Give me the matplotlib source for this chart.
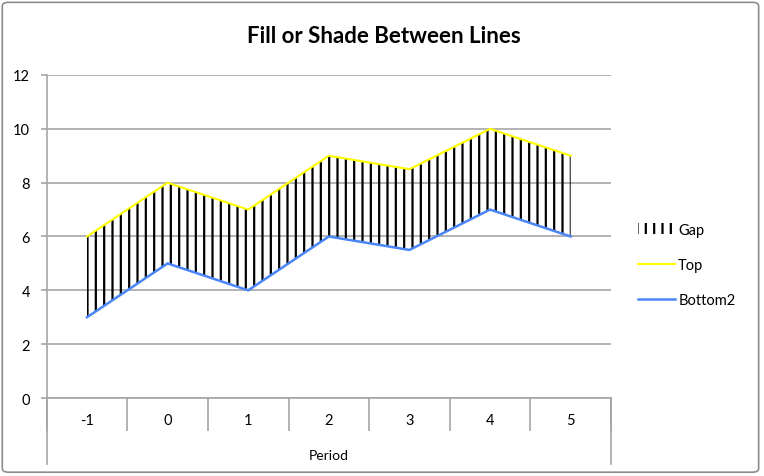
import matplotlib.pyplot as plt
import matplotlib.patches as mpatches
from matplotlib.lines import Line2D
import numpy as np

# chart data
periods = ['-1', '0', '1', '2', '3', '4', '5']
top = [6, 8, 7, 9, 8.5, 10, 9]
bottom2 = [3, 5, 4, 6, 5.5, 7, 6]
y_ticks = [0, 2, 4, 6, 8, 10, 12]

plt.rcParams['font.family'] = ['Lato', 'DejaVu Sans']
plt.rcParams['hatch.linewidth'] = 1.6

grey = '#a6a6a6'
yellow = '#ffff00'
blue = '#4a86f7'

fig = plt.figure(figsize=(7.64, 4.77), dpi=100)
ax = fig.add_axes([0.0611, 0.1635, 0.7386, 0.6772])

x = np.arange(len(periods))

# shaded gap between lines
ax.fill_between(x, bottom2, top, facecolor='none', edgecolor='black',
                hatch='||', linewidth=0, zorder=2)
ax.plot(x, top, color=yellow, lw=1.5, zorder=3)
ax.plot(x, bottom2, color=blue, lw=1.8, zorder=3)

ax.set_xlim(-0.5, len(periods) - 0.5)
ax.set_ylim(0, 12)
ax.set_yticks(y_ticks)
ax.set_yticklabels([str(v) for v in y_ticks], fontsize=10.5)
ax.yaxis.grid(True, color=grey, lw=1.2)
ax.set_axisbelow(True)

# category axis: labels at centres, divider ticks at boundaries
ax.set_xticks(x)
ax.set_xticklabels(periods, fontsize=10.5)
ax.tick_params(axis='x', which='major', length=0, pad=11)
ax.set_xticks(np.arange(-0.5, len(periods)), minor=True)
ax.tick_params(axis='x', which='minor', length=24, width=1.2, color=grey)
ax.tick_params(axis='y', length=4, width=1.2, color=grey, pad=8)

for s in ['top', 'right']:
    ax.spines[s].set_visible(False)
for s in ['left', 'bottom']:
    ax.spines[s].set_color(grey)
    ax.spines[s].set_linewidth(1.2)

# outer group boundaries
for xb in [-0.5, len(periods) - 0.5]:
    ax.plot([xb, xb], [0, -0.205], transform=ax.get_xaxis_transform(),
            color=grey, lw=1.2, clip_on=False)

ax.set_xlabel('Period', fontsize=10, labelpad=9)

fig.suptitle('Fill or Shade Between Lines', fontsize=16, fontweight='bold',
             x=0.503, y=0.945)

handles = [
    mpatches.Patch(facecolor='none', edgecolor='black', hatch='||', linewidth=0),
    Line2D([], [], color=yellow, lw=1.5),
    Line2D([], [], color=blue, lw=1.8),
]
fig.legend(handles, ['Gap', 'Top', 'Bottom2'], loc='center left',
           bbox_to_anchor=(0.818, 0.443), frameon=False, fontsize=10.5,
           handlelength=2.5, handletextpad=0.25, labelspacing=1.45)

border = mpatches.FancyBboxPatch((0.003, 0.008), 0.99, 0.985,
                                 boxstyle='round,pad=0,rounding_size=0.008',
                                 transform=fig.transFigure, fill=False,
                                 edgecolor='#8c8c8c', lw=1.2)
fig.patches.append(border)

fig.savefig('out.png', dpi=100)
